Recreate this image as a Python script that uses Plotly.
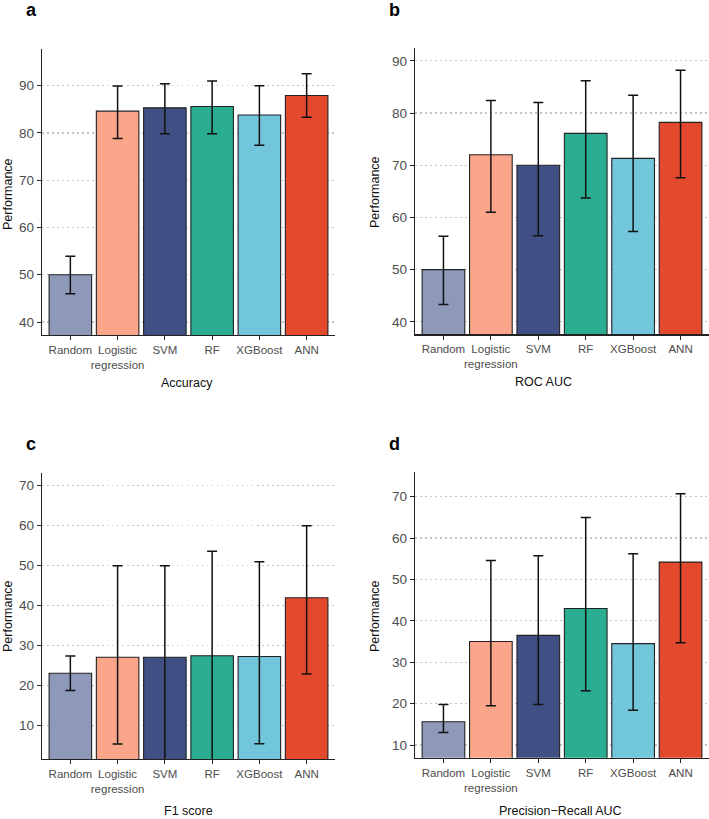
import plotly.graph_objects as go

categories = ["Random", "Logistic<br>regression", "SVM", "RF", "XGBoost", "ANN"]
colors = ["#8E99BA", "#FBA58A", "#404F84", "#2AAD90", "#72C6DC", "#E2492D"]

acc_mean = [50.0, 84.6, 85.3, 85.6, 83.8, 87.9]
acc_low = [46.0, 78.8, 79.8, 79.8, 77.4, 83.3]
acc_high = [53.9, 89.9, 90.4, 91.0, 90.0, 92.5]

roc_mean = [50.0, 72.0, 70.0, 76.1, 71.3, 78.2]
roc_low = [43.3, 61.0, 56.5, 63.7, 57.3, 67.6]
roc_high = [56.4, 82.4, 82.0, 86.2, 83.4, 88.2]

f1_mean = [23.1, 27.1, 27.1, 27.5, 27.3, 42.0]
f1_low = [18.8, 5.4, 0.0, 0.0, 5.5, 22.9]
f1_high = [27.4, 50.0, 50.0, 53.6, 51.0, 60.0]

pr_mean = [15.6, 35.0, 36.5, 43.0, 34.5, 54.2]
pr_low = [13.0, 19.5, 19.8, 23.1, 18.4, 34.7]
pr_high = [19.8, 54.6, 55.7, 65.0, 56.2, 70.7]

panels = [
    ("a", "Accuracy", acc_mean, acc_low, acc_high, [37.25, 97.75], [40, 50, 60, 70, 80, 90]),
    ("b", "ROC AUC", roc_mean, roc_low, roc_high, [37.6, 92.4], [40, 50, 60, 70, 80, 90]),
    ("c", "F1 score", f1_mean, f1_low, f1_high, [1.67, 73.25], [10, 20, 30, 40, 50, 60, 70]),
    ("d", "Precision\u2212Recall AUC", pr_mean, pr_low, pr_high, [6.93, 76.04], [10, 20, 30, 40, 50, 60, 70]),
]

W, H = 709, 819
# pixel boxes: (x0, x1, ytop, ybottom)
boxes = [
    (42, 335, 49, 335),
    (415, 709, 48.3, 334.3),
    (42, 335, 472.7, 759),
    (415, 709, 471.7, 757.7),
]

FONT = "Liberation Sans, Arial, Helvetica, sans-serif"
fig = go.Figure()
layout = {}
annotations = []

# panel letter centers, x-title centers, y-title centers (pixels)
letter_pos = [(31, 10), (394, 10), (31, 444), (394, 444)]
xtitle_pos = [(187, 383), (543, 382), (189, 811), (560, 811)]
ytitle_pos = [(8, 194), (375, 192), (8, 616), (375, 616)]

for i, (letter, xtitle, mean, low, high, yr, tv) in enumerate(panels):
    n = "" if i == 0 else str(i + 1)
    xa, ya = "x" + n, "y" + n
    plus = [h - m for h, m in zip(high, mean)]
    minus = [m - l for m, l in zip(mean, low)]
    fig.add_trace(go.Bar(
        x=categories, y=mean, xaxis=xa, yaxis=ya,
        width=0.9,
        marker=dict(color=colors, line=dict(color="#222222", width=1.1)),
        error_y=dict(type="data", symmetric=False, array=plus, arrayminus=minus,
                     color="#111111", thickness=1.5, width=5),
        showlegend=False,
        cliponaxis=True,
    ))
    x0, x1, yt, yb = boxes[i]
    layout["xaxis" + n] = dict(
        domain=[x0 / W, x1 / W], anchor=ya, range=[-0.6, 5.6],
        showline=True, linecolor="#222222", linewidth=1.2,
        ticks="outside", ticklen=4, tickcolor="#222222", tickangle=0,
        tickfont=dict(family=FONT, size=11.5, color="#4D4D4D"),
        showgrid=False, fixedrange=True,
    )
    layout["yaxis" + n] = dict(
        domain=[1 - yb / H, 1 - yt / H], anchor=xa, range=yr,
        tickvals=tv, showline=True, linecolor="#222222", linewidth=1.2,
        ticks="outside", ticklen=4, tickcolor="#222222",
        tickfont=dict(family=FONT, size=13.5, color="#4D4D4D"),
        showgrid=True, gridcolor="#C4C4C4", griddash="1.5px,3.5px", gridwidth=1.3,
        zeroline=False, fixedrange=True,
    )
    lx, ly = letter_pos[i]
    annotations.append(dict(text="<b>%s</b>" % letter, x=lx / W, y=1 - ly / H,
                            xref="paper", yref="paper", xanchor="center", yanchor="middle",
                            showarrow=False, font=dict(family=FONT, size=18, color="#000000")))
    tx, ty = xtitle_pos[i]
    annotations.append(dict(text=xtitle, x=tx / W, y=1 - ty / H, xref="paper", yref="paper",
                            xanchor="center", yanchor="middle", showarrow=False,
                            font=dict(family=FONT, size=12.5, color="#111111")))
    px, py = ytitle_pos[i]
    annotations.append(dict(text="Performance", x=px / W, y=1 - py / H, xref="paper", yref="paper",
                            xanchor="center", yanchor="middle", showarrow=False, textangle=-90,
                            font=dict(family=FONT, size=12.5, color="#111111")))

fig.update_layout(
    width=W, height=H, margin=dict(l=0, r=0, t=0, b=0),
    paper_bgcolor="white", plot_bgcolor="white",
    annotations=annotations, bargap=0.1, **layout,
)
fig.write_html(
    "out.html",
    config={"displayModeBar": False, "staticPlot": True},
    post_script="document.body.style.margin='0px';document.body.style.overflow='hidden';",
)
